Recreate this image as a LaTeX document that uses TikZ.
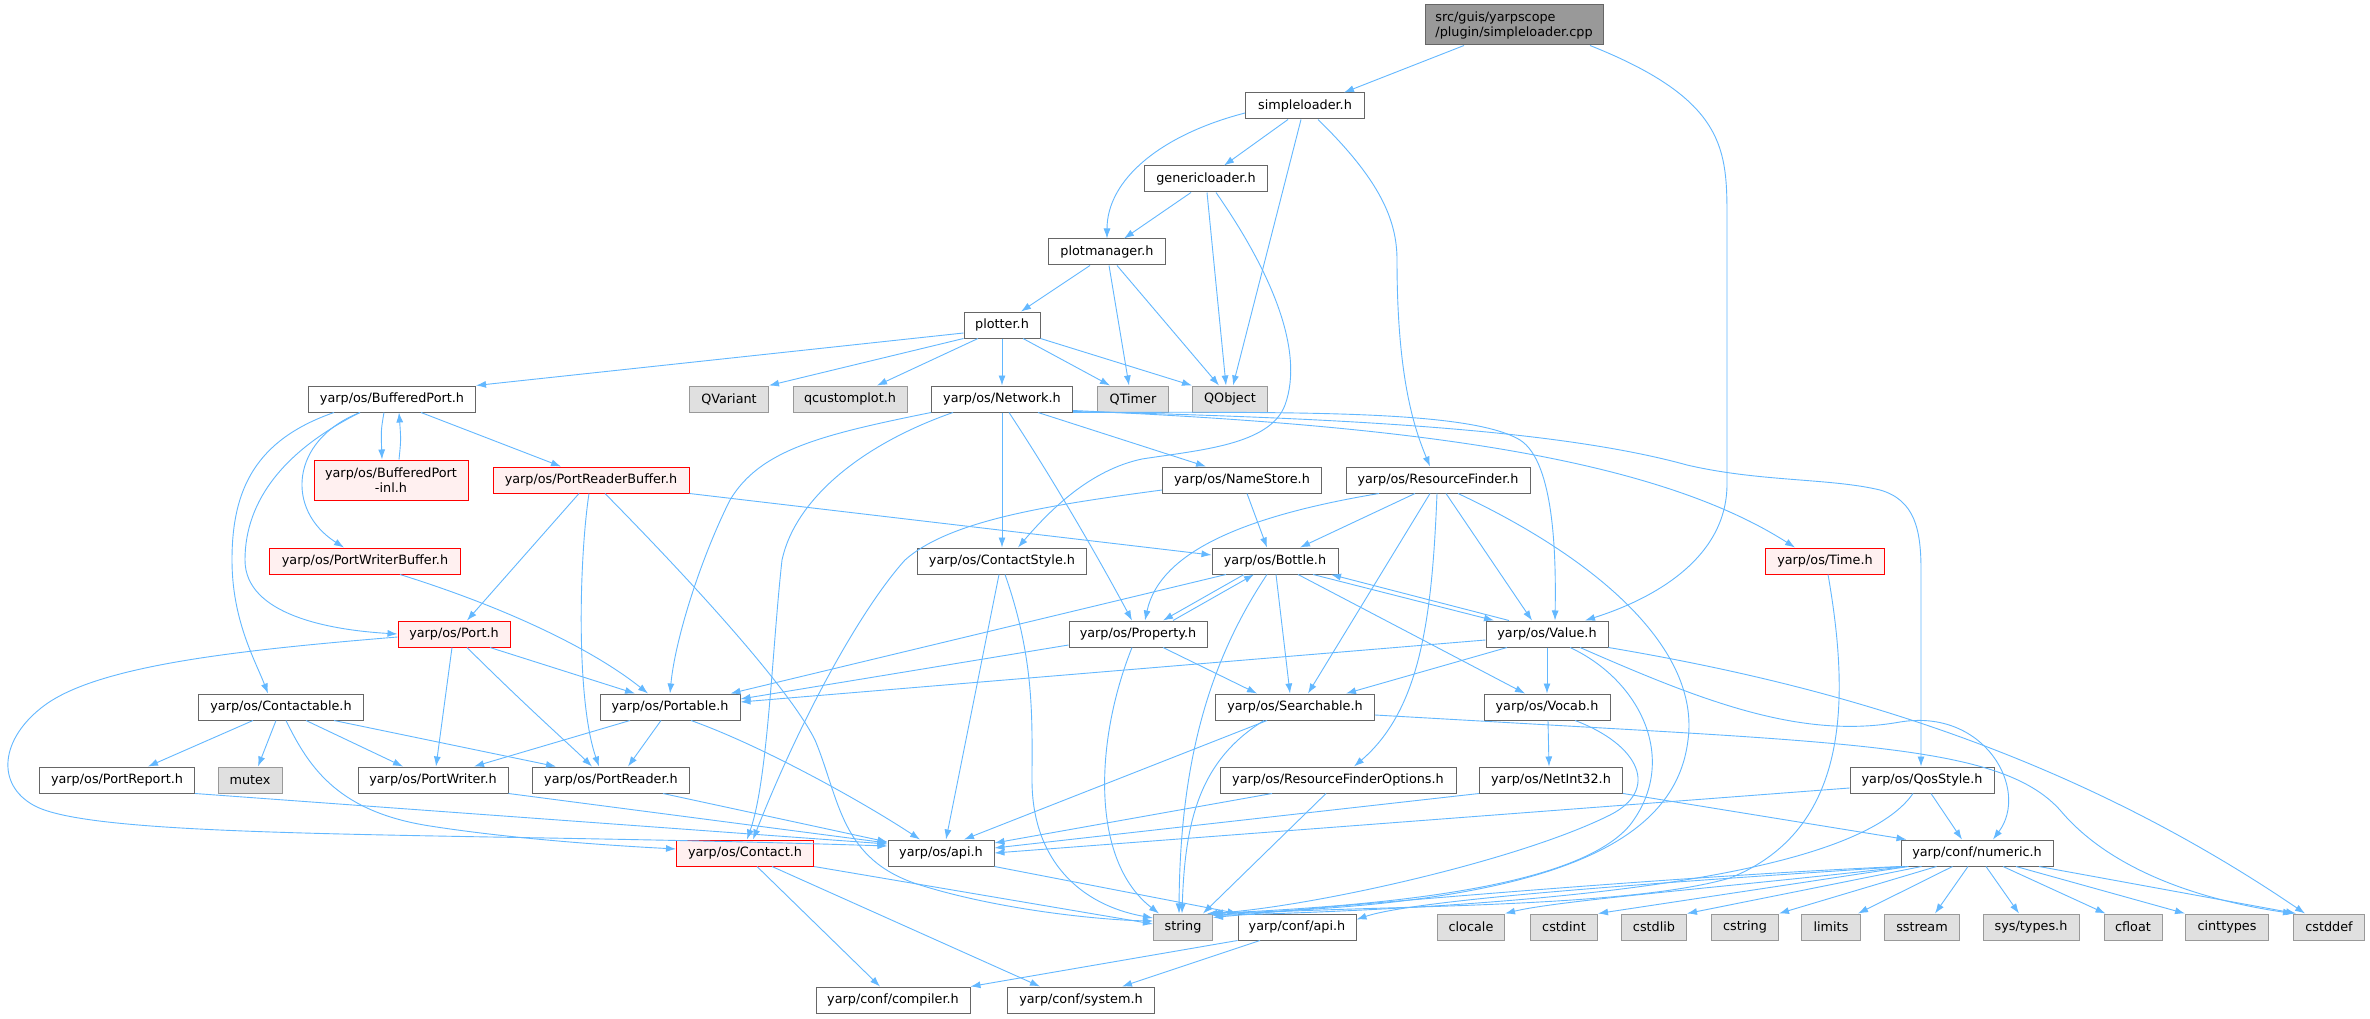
\documentclass[tikz,border=0pt]{standalone}
\usepackage{fontspec}
\setmainfont{DejaVu Sans}
\usepackage{tikz}
\usetikzlibrary{arrows.meta}
\usetikzlibrary{positioning}
\usepackage{xcolor}
\definecolor{edgeblue}{HTML}{63B8FF}
\definecolor{boxgray}{HTML}{666666}
\definecolor{sysgray}{HTML}{999999}
\definecolor{sysfill}{HTML}{E0E0E0}
\definecolor{redfill}{HTML}{FFF0F0}
\definecolor{rootfill}{HTML}{999999}

\begin{document}
\begin{tikzpicture}[x=1pt,y=-1pt]
		\tikzstyle{hdr} = [rectangle, draw=boxgray, fill=white, line width=1pt, 
		minimum height=26pt, inner xsep=2pt, inner ysep=0pt, align=center, text=black,
		font=\fontsize{12.8pt}{15pt}\selectfont]
		\tikzstyle{syshdr} = [hdr, draw=sysgray, fill=sysfill]
		\tikzstyle{redhdr} = [hdr, draw=red, fill=redfill]
		\tikzstyle{roothdr} = [hdr, fill=rootfill, minimum height=40pt, align=left]
		\tikzstyle{dep} = [draw=edgeblue, line width=0.9pt, -{Latex[length=10pt, width=7pt]}]

		\fill [white] (0,0) rectangle (2370,1019);
		\useasboundingbox (0,0) rectangle (2370,1019);

		% Source file
		\node [roothdr, minimum width=178pt] (root) at (1514,25) {src/guis/yarpscope\\/plugin/simpleloader.cpp};

		% yarpscope headers
		\node [hdr, minimum width=119pt] (simpleloader) at (1305,106) {simpleloader.h};
		\node [hdr, minimum width=123pt] (genericloader) at (1206,179) {genericloader.h};
		\node [hdr, minimum width=117pt] (plotmanager) at (1107,252) {plotmanager.h};
		\node [hdr, minimum width=76pt] (plotter) at (1002,325) {plotter.h};

		% Qt and first yarp row
		\node [hdr, minimum width=167pt] (bufferedport) at (392,399) {yarp/os/BufferedPort.h};
		\node [syshdr, minimum width=79pt] (qvariant) at (729,399) {QVariant};
		\node [syshdr, minimum width=114pt] (qcustomplot) at (850,399) {qcustomplot.h};
		\node [hdr, minimum width=141pt] (network) at (1002,399) {yarp/os/Network.h};
		\node [syshdr, minimum width=71pt] (qtimer) at (1133,399) {QTimer};
		\node [syshdr, minimum width=75pt] (qobject) at (1230,399) {QObject};

		% yarp/os
		\node [redhdr, minimum width=154pt, minimum height=40pt] (bufferedportinl) at (391,480) {yarp/os/BufferedPort\\-inl.h};
		\node [redhdr, minimum width=196pt] (portreaderbuffer) at (591,480) {yarp/os/PortReaderBuffer.h};
		\node [hdr, minimum width=159pt] (namestore) at (1242,480) {yarp/os/NameStore.h};
		\node [hdr, minimum width=184pt] (resourcefinder) at (1438,480) {yarp/os/ResourceFinder.h};
		\node [redhdr, minimum width=191pt] (portwriterbuffer) at (365,561) {yarp/os/PortWriterBuffer.h};
		\node [hdr, minimum width=169pt] (contactstyle) at (1002,561) {yarp/os/ContactStyle.h};
		\node [hdr, minimum width=126pt] (bottle) at (1275,561) {yarp/os/Bottle.h};
		\node [redhdr, minimum width=119pt] (time) at (1825,561) {yarp/os/Time.h};
		\node [redhdr, minimum width=112pt] (port) at (454,634) {yarp/os/Port.h};
		\node [hdr, minimum width=138pt] (property) at (1138,634) {yarp/os/Property.h};
		\node [hdr, minimum width=122pt] (value) at (1547,634) {yarp/os/Value.h};
		\node [hdr, minimum width=165pt] (contactable) at (281,707) {yarp/os/Contactable.h};
		\node [hdr, minimum width=140pt] (portable) at (670,707) {yarp/os/Portable.h};
		\node [hdr, minimum width=159pt] (searchable) at (1295,707) {yarp/os/Searchable.h};
		\node [hdr, minimum width=126pt] (vocab) at (1547,707) {yarp/os/Vocab.h};
		\node [hdr, minimum width=155pt] (portreport) at (117,780) {yarp/os/PortReport.h};
		\node [syshdr, minimum width=64pt] (mutex) at (250,780) {mutex};
		\node [hdr, minimum width=150pt] (portwriter) at (433,780) {yarp/os/PortWriter.h};
		\node [hdr, minimum width=157pt] (portreader) at (611,780) {yarp/os/PortReader.h};
		\node [hdr, minimum width=236pt] (rfoptions) at (1338,780) {yarp/os/ResourceFinderOptions.h};
		\node [hdr, minimum width=143pt] (netint) at (1551,780) {yarp/os/NetInt32.h};
		\node [hdr, minimum width=144pt] (qosstyle) at (1922,780) {yarp/os/QosStyle.h};
		\node [redhdr, minimum width=137pt] (contact) at (745,853) {yarp/os/Contact.h};
		\node [hdr, minimum width=106pt] (osapi) at (941,853) {yarp/os/api.h};

		% yarp/conf and system headers
		\node [hdr, minimum width=152pt] (numeric) at (1977,853) {yarp/conf/numeric.h};
		\node [syshdr, minimum width=59pt] (string) at (1183,927) {string};
		\node [hdr, minimum width=118pt] (confapi) at (1297,927) {yarp/conf/api.h};
		\node [syshdr, minimum width=67pt] (clocale) at (1471,927) {clocale};
		\node [syshdr, minimum width=67pt] (cstdint) at (1564,927) {cstdint};
		\node [syshdr, minimum width=65pt] (cstdlib) at (1654,927) {cstdlib};
		\node [syshdr, minimum width=67pt] (cstring) at (1745,927) {cstring};
		\node [syshdr, minimum width=59pt] (limits) at (1831,927) {limits};
		\node [syshdr, minimum width=75pt] (sstream) at (1922,927) {sstream};
		\node [syshdr, minimum width=96pt] (systypes) at (2031,927) {sys/types.h};
		\node [syshdr, minimum width=58pt] (cfloat) at (2133,927) {cfloat};
		\node [syshdr, minimum width=83pt] (cinttypes) at (2227,927) {cinttypes};
		\node [syshdr, minimum width=71pt] (cstddef) at (2329,927) {cstddef};
		\node [hdr, minimum width=154pt] (compiler) at (893,1000) {yarp/conf/compiler.h};
		\node [hdr, minimum width=147pt] (system) at (1081,1000) {yarp/conf/system.h};

		% arrows
		\draw [dep] ([xshift=-50pt]root.south) -- ([xshift=39pt]simpleloader.north);
		\draw [dep] ([xshift=76pt]root.south) .. controls (1727,100) and (1727,150) .. (1727,220) -- (1727,484) .. controls (1727,560) and (1650,600) .. ([xshift=38pt]value.north);
		%
		\draw [dep] ([yshift=-7pt]simpleloader.west) .. controls (1160,135) and (1107,180) .. (plotmanager.north);
		\draw [dep] ([xshift=-17pt]simpleloader.south) -- ([xshift=18pt]genericloader.north);
		\draw [dep] ([xshift=-4pt]simpleloader.south) -- ([xshift=3pt]qobject.north);
		\draw [dep] ([xshift=13pt]simpleloader.south) .. controls (1380,180) and (1397,220) .. (1397,260) .. controls (1397,380) and (1415,430) .. ([xshift=-8pt]resourcefinder.north);
		%
		\draw [dep] ([xshift=-15pt]genericloader.south) -- ([xshift=17pt]plotmanager.north);
		\draw [dep] ([xshift=1pt]genericloader.south) -- ([xshift=-4pt]qobject.north);
		\draw [dep] ([xshift=10pt]genericloader.south) .. controls (1270,270) and (1305,350) .. (1285,405) .. controls (1270,445) and (1200,450) .. (1142,459) .. controls (1090,470) and (1050,510) .. ([xshift=16pt]contactstyle.north);
		%
		\draw [dep] ([xshift=-17pt]plotmanager.south) -- ([xshift=19pt]plotter.north);
		\draw [dep] ([xshift=2pt]plotmanager.south) -- ([xshift=-4pt]qtimer.north);
		\draw [dep] ([xshift=10pt]plotmanager.south) -- ([xshift=-11pt]qobject.north);
		%
		\draw [dep] ([yshift=-8pt]plotter.west) -- (bufferedport.north east);
		\draw [dep] (plotter.south west) -- (qvariant.north east);
		\draw [dep] ([xshift=-24pt]plotter.south) -- ([xshift=27pt]qcustomplot.north);
		\draw [dep] (plotter) -- (network);
		\draw [dep] ([xshift=21pt]plotter.south) -- ([xshift=-23pt]qtimer.north);
		\draw [dep] (plotter.south east) -- (qobject.north west);
		%
		\draw [dep] ([xshift=-8pt]bufferedport.south) .. controls (381,430) .. ([xshift=-9pt]bufferedportinl.north);
		\draw [dep] ([xshift=8pt]bufferedportinl.north) .. controls (401,440) .. ([xshift=7pt]bufferedport.south);
		\draw [dep] ([xshift=29pt]bufferedport.south) -- ([xshift=-30pt]portreaderbuffer.north);
		\draw [dep] ([xshift=-32pt]bufferedport.south) .. controls (290,440) and (285,510) .. ([xshift=-21pt]portwriterbuffer.north);
		\draw [dep] ([xshift=-32pt]bufferedport.south) .. controls (285,450) and (245,500) .. (245,560) .. controls (245,615) and (330,630) .. (port.west);
		\draw [dep] ([xshift=-58pt]bufferedport.south) .. controls (255,440) and (232,490) .. (232,560) .. controls (232,620) and (255,660) .. ([xshift=-13pt]contactable.north);
		%
		\draw [dep] ([xshift=-12pt]portreaderbuffer.south) -- ([xshift=13pt]port.north);
		\draw [dep] ([xshift=-2pt]portreaderbuffer.south) .. controls (579,560) and (576,700) .. ([xshift=-12pt]portreader.north);
		\draw [dep] (portreaderbuffer.south east) -- ([yshift=6pt]bottle.west);
		\draw [dep] ([xshift=14pt]portreaderbuffer.south) .. controls (700,590) and (790,690) .. (815,740) .. controls (840,800) and (840,860) .. (920,885) .. controls (1000,910) and (1100,920) .. ([yshift=6pt]string.west);
		%
		\draw [dep] ([xshift=35pt]portwriterbuffer.south) .. controls (520,612) and (600,655) .. ([xshift=-22pt]portable.north);
		%
		\draw [dep] ([xshift=-2pt]port.south) -- ([xshift=3pt]portwriter.north);
		\draw [dep] ([xshift=13pt]port.south) .. controls (530,710) and (570,745) .. ([xshift=-19pt]portreader.north);
		\draw [dep] ([xshift=36pt]port.south) -- ([xshift=-35pt]portable.north);
		\draw [dep] ([yshift=-3pt]port.west) .. controls (240,650) and (100,665) .. (45,705) .. controls (0,738) and (-5,785) .. (35,806) .. controls (100,840) and (450,832) .. ([yshift=7pt]osapi.west);
		%
		\draw [dep] ([xshift=-28pt]contactable.south) -- ([xshift=31pt]portreport.north);
		\draw [dep] ([xshift=-5pt]contactable.south) -- ([xshift=8pt]mutex.north);
		\draw [dep] ([xshift=25pt]contactable.south) -- ([xshift=-30pt]portwriter.north);
		\draw [dep] ([xshift=53pt]contactable.south) -- ([xshift=-55pt]portreader.north);
		\draw [dep] ([xshift=5pt]contactable.south) .. controls (310,770) and (340,812) .. (430,826) .. controls (520,840) and (620,846) .. ([yshift=4pt]contact.west);
		%
		\draw [dep] ([xshift=-40pt]portable.south) -- ([xshift=41pt]portwriter.north);
		\draw [dep] ([xshift=-9pt]portable.south) -- ([xshift=17pt]portreader.north);
		\draw [dep] ([xshift=21pt]portable.south) .. controls (760,745) and (860,800) .. ([xshift=-21pt]osapi.north);
		%
		\draw [dep] (portreport.south east) -- ([yshift=9pt]osapi.west);
		\draw [dep] (portwriter.south east) -- ([yshift=10pt]osapi.west);
		\draw [dep] ([xshift=52pt]portreader.south) -- ([yshift=11pt]osapi.west);
		%
		\draw [dep] (network.south west) .. controls (820,435) and (760,450) .. (730,500) .. controls (700,560) and (675,640) .. (portable.north);
		\draw [dep] ([xshift=-49pt]network.south) .. controls (860,445) and (795,500) .. (782,560) .. controls (772,650) and (768,780) .. ([xshift=2pt]contact.north);
		\draw [dep] (network) -- (contactstyle);
		\draw [dep] ([xshift=7pt]network.south) .. controls (1060,490) and (1105,570) .. ([xshift=-6pt]property.north);
		\draw [dep] ([xshift=36pt]network.south) -- ([xshift=-36pt]namestore.north);
		\draw [dep] (network.south east) .. controls (1300,412) and (1470,410) .. (1520,440) .. controls (1555,462) and (1556,560) .. ([xshift=8pt]value.north);
		\draw [dep] ([yshift=2pt]network.south east) .. controls (1400,425) and (1650,455) .. ([xshift=-30pt]time.north);
		\draw [dep] ([yshift=1pt]network.south east) .. controls (1350,418) and (1560,430) .. (1687,465) .. controls (1760,482) and (1830,478) .. (1880,490) .. controls (1915,500) and (1921,530) .. (1921,570) -- ([xshift=-1pt]qosstyle.north);
		%
		\draw [dep] ([yshift=-10pt]namestore.west) .. controls (1050,505) and (950,520) .. (905,560) .. controls (860,610) and (800,720) .. ([xshift=8pt]contact.north);
		\draw [dep] ([xshift=5pt]namestore.south) -- ([xshift=-8pt]bottle.north);
		%
		\draw [dep] ([xshift=-59pt]resourcefinder.south) .. controls (1250,515) and (1160,550) .. ([xshift=7pt]property.north);
		\draw [dep] ([xshift=-23pt]resourcefinder.south) -- ([xshift=25pt]bottle.north);
		\draw [dep] ([xshift=-8pt]resourcefinder.south) -- ([xshift=13pt]searchable.north);
		\draw [dep] ([xshift=-1pt]resourcefinder.south) .. controls (1432,620) and (1420,710) .. ([xshift=16pt]rfoptions.north);
		\draw [dep] ([xshift=8pt]resourcefinder.south) -- ([xshift=-15pt]value.north);
		\draw [dep] ([xshift=20pt]resourcefinder.south) .. controls (1600,560) and (1700,650) .. (1688,740) .. controls (1676,840) and (1560,905) .. ([xshift=-6pt]string.north east);
		%
		\draw [dep] ([xshift=-3pt]contactstyle.south) -- ([xshift=5pt]osapi.north);
		\draw [dep] ([xshift=3pt]contactstyle.south) .. controls (1035,660) and (1032,720) .. (1032,780) .. controls (1032,860) and (1080,905) .. ([yshift=9pt]string.west);
		%
		\draw [dep] ([xshift=-49pt]bottle.south) -- ([xshift=-10pt]portable.north east);
		\draw [dep] ([xshift=-31pt]bottle.south) -- ([xshift=25pt]property.north);
		\draw [dep] ([xshift=-8pt]bottle.south) .. controls (1210,660) and (1180,760) .. ([xshift=-4pt]string.north);
		\draw [dep] ([xshift=1pt]bottle.south) -- ([xshift=-5pt]searchable.north);
		\draw [dep] ([xshift=23pt]bottle.south) -- ([xshift=-22pt]vocab.north);
		\draw [dep] ([xshift=38pt]bottle.south) -- ([xshift=-53pt]value.north);
		%
		\draw [dep] ([xshift=35pt]property.north) -- ([xshift=-21pt]bottle.south);
		\draw [dep] ([yshift=-11pt]property.west) -- ([yshift=8pt]portable.east);
		\draw [dep] ([xshift=25pt]property.south) -- ([xshift=-38pt]searchable.north);
		\draw [dep] ([xshift=-6pt]property.south) .. controls (1095,740) and (1090,860) .. ([xshift=6pt]string.north west);
		%
		\draw [dep] ([xshift=-38pt]value.north) -- ([xshift=56pt]bottle.south);
		\draw [dep] ([yshift=-6pt]value.west) -- ([yshift=5pt]portable.east);
		\draw [dep] ([xshift=-40pt]value.south) -- ([xshift=51pt]searchable.north);
		\draw [dep] (value) -- (vocab);
		\draw [dep] ([xshift=23pt]value.south) .. controls (1640,680) and (1680,760) .. (1630,825) .. controls (1580,885) and (1400,905) .. ([xshift=-3pt]string.north east);
		\draw [dep] ([xshift=33pt]value.south) .. controls (1700,700) and (1800,740) .. (1900,722) .. controls (1985,708) and (2030,790) .. ([xshift=16pt]numeric.north);
		\draw [dep] (value.south east) .. controls (1800,680) and (2050,740) .. ([xshift=-24pt]cstddef.north);
		%
		\draw [dep] ([xshift=-28pt]searchable.south) -- ([xshift=23pt]osapi.north);
		\draw [dep] ([xshift=-31pt]searchable.south) .. controls (1200,760) and (1185,820) .. ([xshift=-1pt]string.north);
		\draw [dep] ([yshift=-8pt]searchable.east) -- (1620,729) .. controls (1900,745) and (2010,755) .. (2060,810) .. controls (2110,870) and (2200,900) .. (cstddef.north west);
		%
		\draw [dep] ([xshift=1pt]vocab.south) -- ([xshift=-2pt]netint.north);
		\draw [dep] ([xshift=28pt]vocab.south) .. controls (1640,745) and (1660,790) .. (1610,815) .. controls (1520,860) and (1320,905) .. (string.north east);
		%
		\draw [dep] ([xshift=-66pt]rfoptions.south) -- ([yshift=10pt]osapi.east);
		\draw [dep] ([xshift=-12pt]rfoptions.south) -- ([xshift=20pt]string.north);
		%
		\draw [dep] (netint.south west) -- ([yshift=5pt]osapi.east);
		\draw [dep] (netint.south east) -- ([xshift=6pt]numeric.north west);
		%
		\draw [dep] ([yshift=-8pt]qosstyle.west) -- (osapi.east);
		\draw [dep] ([xshift=-9pt]qosstyle.south) .. controls (1860,870) and (1600,905) .. ([yshift=-2pt]string.north east);
		\draw [dep] ([xshift=9pt]qosstyle.south) -- ([xshift=-15pt]numeric.north);
		%
		\draw [dep] ([xshift=3pt]time.south) .. controls (1850,700) and (1850,830) .. (1730,878) .. controls (1620,910) and (1350,905) .. ([yshift=-2pt]string.north east);
		%
		\draw [dep] (numeric.south west) .. controls (1700,875) and (1400,900) .. ([yshift=-4pt]string.north east);
		\draw [dep] ([xshift=3pt]numeric.south west) .. controls (1700,880) and (1420,898) .. ([yshift=-6pt]confapi.north east);
		\draw [dep] ([xshift=6pt]numeric.south west) .. controls (1750,885) and (1560,900) .. (clocale.north east);
		\draw [dep] ([xshift=8pt]numeric.south west) -- (cstdint.north east);
		\draw [dep] ([xshift=21pt]numeric.south west) -- (cstdlib.north east);
		\draw [dep] ([xshift=36pt]numeric.south west) -- (cstring.north east);
		\draw [dep] ([xshift=52pt]numeric.south west) -- ([xshift=-3pt]limits.north east);
		\draw [dep] ([xshift=-9pt]numeric.south) -- ([xshift=13pt]sstream.north);
		\draw [dep] ([xshift=9pt]numeric.south) -- ([xshift=-12pt]systypes.north);
		\draw [dep] ([xshift=26pt]numeric.south) -- ([xshift=2pt]cfloat.north west);
		\draw [dep] ([xshift=39pt]numeric.south) -- (cinttypes.north west);
		\draw [dep] ([xshift=62pt]numeric.south) -- ([xshift=3pt]cstddef.north west);
		%
		\draw [dep] (contact.south east) -- ([yshift=3pt]string.west);
		\draw [dep] ([xshift=12pt]contact.south) -- ([xshift=-13pt]compiler.north);
		\draw [dep] ([xshift=27pt]contact.south) -- ([xshift=-41pt]system.north);
		%
		\draw [dep] (osapi.south east) -- (confapi.north west);
		\draw [dep] (confapi.south west) -- (compiler.north east);
		\draw [dep] ([xshift=-37pt]confapi.south) -- ([xshift=41pt]system.north);

	\end{tikzpicture}
\end{document}
